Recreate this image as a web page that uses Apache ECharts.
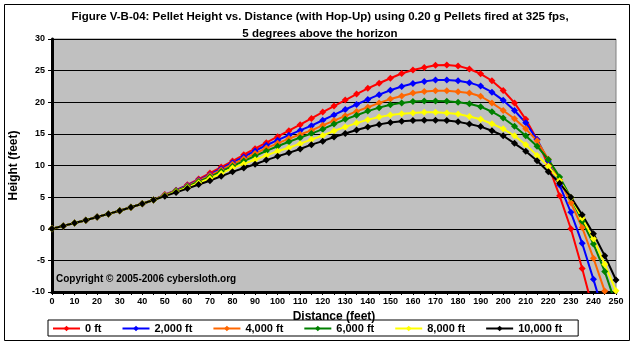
<!DOCTYPE html>
<html>
<head>
<meta charset="utf-8">
<script src="https://cdn.jsdelivr.net/npm/echarts@6/dist/echarts.min.js"></script>
<style>
html,body{margin:0;padding:0;background:#fff;}
#chart{width:632px;height:341px;}
</style>
</head>
<body>
<div id="chart"></div>
<script>
// Distances (feet), one point every 5 ft
const distances = [0,5,10,15,20,25,30,35,40,45,50,55,60,65,70,75,80,85,90,95,100,105,110,115,120,125,130,135,140,145,150,155,160,165,170,175,180,185,190,195,200,205,210,215,220,225,230,235,240,245,250];

// Heights (feet) per altitude
const h0ft = [0,0.45,0.9,1.35,1.85,2.35,2.85,3.4,3.95,4.55,
  5.4,6.1,6.95,7.85,8.8,9.75,10.7,11.7,12.65,13.6,
  14.55,15.5,16.45,17.45,18.45,19.4,20.35,21.3,22.2,23.0,
  23.8,24.55,25.1,25.5,25.85,25.9,25.75,25.25,24.5,23.4,
  21.85,19.9,17.3,14.1,10.0,5.2,0.0,-6.3,-13.0];
const h2000ft = [0,0.45,0.9,1.35,1.85,2.35,2.85,3.4,3.95,4.55,
  5.35,6.05,6.85,7.7,8.55,9.5,10.45,11.35,12.3,13.2,
  14.0,14.8,15.55,16.3,17.15,18.0,18.85,19.65,20.45,21.2,
  21.9,22.5,22.95,23.3,23.5,23.5,23.4,23.1,22.55,21.6,
  20.3,18.7,16.75,14.1,10.7,6.9,2.6,-2.3,-8.0,-14.0];
const h4000ft = [0,0.45,0.9,1.35,1.85,2.35,2.85,3.4,3.95,4.55,
  5.3,6.0,6.75,7.6,8.4,9.3,10.2,11.05,11.9,12.75,
  13.5,14.25,14.9,15.55,16.35,17.1,17.85,18.55,19.2,19.9,
  20.5,21.0,21.45,21.7,21.8,21.8,21.65,21.45,20.95,19.9,
  18.7,17.4,15.8,13.9,11.0,7.7,4.1,0.2,-4.65,-9.85,-15.5];
const h6000ft = [0,0.45,0.9,1.35,1.85,2.35,2.85,3.4,3.95,4.55,
  5.25,5.95,6.65,7.45,8.2,9.05,9.9,10.7,11.5,12.3,
  13.05,13.75,14.4,15.05,15.75,16.55,17.3,17.95,18.6,19.15,
  19.6,19.9,20.1,20.2,20.2,20.15,20.0,19.75,19.3,18.5,
  17.5,16.2,14.7,13.05,10.95,8.2,4.9,1.2,-2.4,-6.75,-12.0];
const h8000ft = [0,0.45,0.9,1.35,1.85,2.35,2.85,3.4,3.95,4.55,
  5.2,5.85,6.5,7.25,7.95,8.75,9.6,10.25,10.9,11.6,
  12.25,12.8,13.45,14.1,14.75,15.45,16.1,16.7,17.25,17.65,
  17.97,18.2,18.3,18.4,18.4,18.3,18.15,17.75,17.3,16.6,
  15.8,14.7,13.3,11.6,9.9,7.6,4.9,1.7,-1.6,-5.6,-9.8];
const h10000ft = [0,0.45,0.9,1.35,1.85,2.35,2.85,3.4,3.95,4.55,
  5.15,5.75,6.35,7.0,7.6,8.3,9.0,9.6,10.2,10.85,
  11.45,12.0,12.6,13.3,13.85,14.5,15.05,15.6,16.1,16.5,
  16.8,17.0,17.1,17.15,17.15,17.1,16.9,16.55,16.15,15.5,
  14.7,13.5,12.25,10.75,9.0,7.2,5.0,2.2,-0.8,-4.25,-8.1];

const seriesNames = ['0 ft','2,000 ft','4,000 ft','6,000 ft','8,000 ft','10,000 ft'];
const seriesValues = [h0ft,h2000ft,h4000ft,h6000ft,h8000ft,h10000ft];
const seriesColors = ['#FF0000','#0000FF','#FF6600','#008000','#FFFF00','#000000'];

const FONT = '"Liberation Sans", Arial, sans-serif';

const chart = echarts.init(document.getElementById('chart'), null, {renderer:'canvas'});

const series = seriesNames.map((name, i) => ({
  name: name,
  type: 'line',
  data: seriesValues[i].map((v, k) => [distances[k], v]),
  symbol: 'diamond',
  symbolSize: 7,
  showSymbol: true,
  clip: true,
  color: seriesColors[i],
  lineStyle: {color: seriesColors[i], width: 2},
  itemStyle: {color: seriesColors[i], borderWidth: 0},
  emphasis: {disabled: true},
  animation: false
}));

chart.setOption({
  animation: false,
  backgroundColor: '#FFFFFF',
  title: {
    text: 'Figure V-B-04: Pellet Height vs. Distance (with Hop-Up) using 0.20 g Pellets fired at 325 fps,\n5 degrees above the horizon',
    left: 315,
    top: 3,
    textAlign: 'center',
    textStyle: {fontFamily: FONT, fontWeight: 'bold', fontSize: 11.5, color: '#000', lineHeight: 17}
  },
  grid: {left: 52, top: 39, right: 16, bottom: 49, show: true, backgroundColor: '#C0C0C0', borderColor: '#808080', borderWidth: 1},
  xAxis: {
    type: 'value', min: 0, max: 250, interval: 10,
    name: 'Distance (feet)', nameLocation: 'middle', nameGap: 18,
    nameTextStyle: {fontFamily: FONT, fontWeight: 'bold', fontSize: 12, color: '#000'},
    axisLine: {onZero: false, lineStyle: {color: '#000', width: 3}},
    axisTick: {show: true, length: 3, lineStyle: {color: '#000', width: 1}},
    minorTick: {show: true, splitNumber: 2, length: 3, lineStyle: {color: '#000', width: 1}},
    axisLabel: {fontFamily: FONT, fontWeight: 'bold', fontSize: 9, color: '#000', margin: 5},
    splitLine: {show: false}
  },
  yAxis: {
    type: 'value', min: -10, max: 30, interval: 5,
    name: 'Height (feet)', nameLocation: 'middle', nameGap: 32, nameRotate: 90,
    nameTextStyle: {fontFamily: FONT, fontWeight: 'bold', fontSize: 12, color: '#000'},
    axisLine: {show: true, lineStyle: {color: '#000', width: 3}},
    axisTick: {show: true, length: 4, lineStyle: {color: '#000', width: 1}},
    axisLabel: {fontFamily: FONT, fontWeight: 'bold', fontSize: 9, color: '#000', margin: 7},
    splitLine: {show: true, lineStyle: {color: '#000', width: 1}}
  },
  legend: {
    data: seriesNames,
    left: 48, top: 320,
    orient: 'horizontal',
    itemWidth: 27, itemHeight: 7, itemGap: 20,
    padding: [3, 16, 2, 4],
    borderColor: '#000', borderWidth: 1,
    textStyle: {fontFamily: FONT, fontWeight: 'bold', fontSize: 11, color: '#000'},
    selectedMode: false
  },
  graphic: [
    {type: 'rect', left: 2, top: 2, shape: {width: 625, height: 336}, style: {fill: 'none', stroke: '#000', lineWidth: 1}, silent: true, z: 100},
    {type: 'text', left: 56, top: 274, style: {text: 'Copyright \u00A9 2005-2006 cybersloth.org', fill: '#000', font: 'bold 10px "Liberation Sans", Arial, sans-serif'}, z: 50}
  ],
  series: series
});
</script>
</body>
</html>
